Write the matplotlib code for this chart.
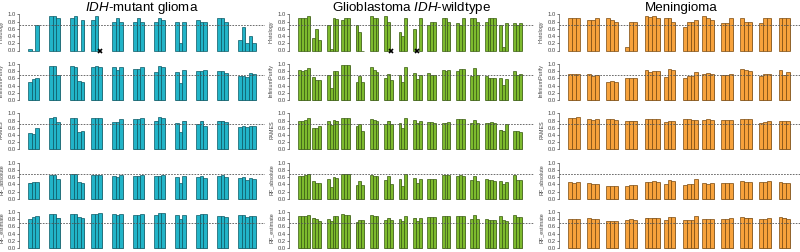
import matplotlib
matplotlib.use("Agg")
import matplotlib.pyplot as plt
import matplotlib.patheffects as pe

plt.rcParams['font.family'] = ['Liberation Sans', 'DejaVu Sans']
plt.rcParams['mathtext.fontset'] = 'custom'
plt.rcParams['mathtext.it'] = 'Liberation Sans:italic'
plt.rcParams['mathtext.rm'] = 'Liberation Sans'

metrics = ["Histology", "InfiniumPurify", "PAMES", "RF_absolute", "RF_estimate"]

# one inner list per patient (its tumour regions); None = no estimate (drawn as x)
idh_histology = [[0.05, 0.0, 0.70], [0.95, 0.95, 0.90], [0.90, 0.95, 0.0, 0.85], [0.85, 0.95, None],
                 [0.80, 0.90, 0.80], [0.80, 0.90, 0.80], [0.80, 0.90, 0.85], [0.80, 0.20, 0.80],
                 [0.85, 0.80, 0.80], [0.90, 0.90, 0.80], [0.30, 0.65, 0.20, 0.40, 0.20]]
idh_infinium = [[0.50, 0.57, 0.60], [0.95, 0.95, 0.70], [0.95, 0.92, 0.52, 0.50], [0.92, 0.93, 0.92],
                [0.92, 0.84, 0.91], [0.86, 0.86, 0.91], [0.78, 0.95, 0.92], [0.78, 0.47, 0.84],
                [0.79, 0.81, 0.84], [0.80, 0.80, 0.74], [0.65, 0.66, 0.64, 0.75, 0.71]]
idh_pames = [[0.45, 0.43, 0.60], [0.88, 0.90, 0.75], [0.86, 0.86, 0.48, 0.51], [0.88, 0.88, 0.88],
             [0.76, 0.77, 0.83], [0.84, 0.85, 0.86], [0.80, 0.91, 0.88], [0.72, 0.49, 0.80],
             [0.71, 0.80, 0.66], [0.80, 0.80, 0.77], [0.63, 0.64, 0.61, 0.66, 0.66]]
idh_rf_abs = [[0.45, 0.47, 0.47], [0.66, 0.65, 0.55], [0.68, 0.68, 0.47, 0.44], [0.65, 0.67, 0.67],
              [0.62, 0.61, 0.66], [0.63, 0.63, 0.65], [0.62, 0.64, 0.65], [0.61, 0.44, 0.63],
              [0.59, 0.62, 0.58], [0.62, 0.66, 0.61], [0.57, 0.60, 0.51, 0.58, 0.56]]
idh_rf_est = [[0.82, 0.86, 0.88], [0.96, 0.96, 0.85], [0.94, 0.94, 0.86, 0.83], [0.94, 0.96, 0.97],
              [0.94, 0.92, 0.94], [0.93, 0.93, 0.94], [0.93, 0.97, 0.97], [0.92, 0.80, 0.93],
              [0.93, 0.95, 0.94], [0.89, 0.90, 0.86], [0.91, 0.92, 0.86, 0.89, 0.89]]

gbm_histology = [[0.90, 0.90, 0.90, 0.95], [0.35, 0.60, 0.30], [0.70, 0.05, 0.90, 0.88], [0.85, 0.90, 0.90],
                 [0.70, 0.50, 0.0], [0.95, 0.90, 0.90], [0.95, 0.80, None], [0.50, 0.40, 0.90],
                 [0.60, None, 0.90], [0.70, 0.80, 0.80], [0.90, 0.90, 0.80], [0.75, 0.70, 0.90],
                 [0.90, 0.90, 0.80], [0.80, 0.90, 0.90, 0.90], [0.70, 0.10, 0.75], [0.75, 0.70, 0.75]]
gbm_infinium = [[0.83, 0.80, 0.84, 0.88], [0.63, 0.56, 0.56], [0.70, 0.33, 0.80, 0.80], [0.96, 0.96, 0.96],
                [0.50, 0.65, 0.50], [0.92, 0.82, 0.78], [0.62, 0.73, 0.56], [0.70, 0.50, 0.90],
                [0.76, 0.58, 0.70], [0.75, 0.70, 0.70], [0.83, 0.80, 0.83], [0.80, 0.85, 0.86],
                [0.66, 0.89, 0.68], [0.65, 0.62, 0.61, 0.61], [0.60, 0.42, 0.58], [0.80, 0.70, 0.73]]
gbm_pames = [[0.78, 0.79, 0.82, 0.86], [0.58, 0.58, 0.64], [0.78, 0.68, 0.81, 0.80], [0.88, 0.88, 0.88],
             [0.65, 0.70, 0.50], [0.84, 0.81, 0.78], [0.70, 0.80, 0.70], [0.73, 0.58, 0.86],
             [0.81, 0.73, 0.79], [0.76, 0.76, 0.73], [0.74, 0.74, 0.75], [0.83, 0.84, 0.83],
             [0.74, 0.81, 0.74], [0.73, 0.73, 0.75, 0.74], [0.55, 0.50, 0.70], [0.50, 0.51, 0.48]]
gbm_rf_abs = [[0.63, 0.63, 0.66, 0.70], [0.50, 0.43, 0.43], [0.54, 0.33, 0.60, 0.58], [0.70, 0.70, 0.70],
              [0.38, 0.48, 0.38], [0.66, 0.64, 0.62], [0.52, 0.62, 0.41], [0.56, 0.36, 0.69],
              [0.57, 0.44, 0.56], [0.56, 0.55, 0.55], [0.66, 0.66, 0.66], [0.64, 0.65, 0.63],
              [0.53, 0.62, 0.50], [0.56, 0.51, 0.52, 0.50], [0.49, 0.42, 0.47], [0.67, 0.53, 0.53]]
gbm_rf_est = [[0.89, 0.89, 0.90, 0.92], [0.85, 0.80, 0.76], [0.82, 0.74, 0.88, 0.88], [0.94, 0.93, 0.93],
              [0.73, 0.79, 0.79], [0.92, 0.89, 0.89], [0.77, 0.85, 0.77], [0.82, 0.76, 0.89],
              [0.85, 0.76, 0.83], [0.86, 0.86, 0.86], [0.88, 0.88, 0.88], [0.89, 0.90, 0.90],
              [0.82, 0.91, 0.80], [0.82, 0.78, 0.78, 0.78], [0.88, 0.78, 0.75], [0.91, 0.87, 0.86]]

men_histology = [[0.90, 0.90, 0.90], [0.85, 0.85, 0.90], [0.90, 0.85, 0.80], [0.10, 0.80, 0.80],
                 [0.95, 0.92, 0.95, 0.90], [0.90, 0.90, 0.80], [0.65, 0.80, 0.80, 0.85], [0.95, 0.90, 0.85],
                 [0.75, 0.75, 0.90], [0.90, 0.80, 0.80], [0.75, 0.90, 0.90], [0.90, 0.90, 0.90]]
men_infinium = [[0.72, 0.72, 0.71], [0.73, 0.66, 0.69], [0.49, 0.52, 0.50], [0.60, 0.61, 0.61],
                [0.82, 0.77, 0.79, 0.79], [0.63, 0.85, 0.83], [0.62, 0.65, 0.66, 0.78], [0.73, 0.75, 0.72],
                [0.70, 0.70, 0.71], [0.86, 0.82, 0.80], [0.65, 0.71, 0.73], [0.83, 0.69, 0.77]]
men_pames = [[0.87, 0.87, 0.89], [0.85, 0.81, 0.84], [0.83, 0.84, 0.81], [0.78, 0.80, 0.80],
             [0.84, 0.85, 0.85, 0.85], [0.75, 0.78, 0.78], [0.83, 0.84, 0.81, 0.81], [0.82, 0.83, 0.82],
             [0.81, 0.81, 0.81], [0.84, 0.84, 0.84], [0.74, 0.75, 0.79], [0.79, 0.78, 0.78]]
men_rf_abs = [[0.46, 0.44, 0.47], [0.44, 0.42, 0.42], [0.35, 0.35, 0.35], [0.35, 0.37, 0.37],
              [0.47, 0.47, 0.48, 0.47], [0.42, 0.53, 0.50], [0.39, 0.41, 0.41, 0.56], [0.44, 0.42, 0.43],
              [0.43, 0.44, 0.44], [0.49, 0.46, 0.46], [0.47, 0.47, 0.50], [0.46, 0.44, 0.44]]
men_rf_est = [[0.80, 0.80, 0.82], [0.84, 0.81, 0.82], [0.76, 0.76, 0.74], [0.78, 0.80, 0.79],
              [0.85, 0.84, 0.85, 0.84], [0.79, 0.86, 0.86], [0.77, 0.78, 0.78, 0.88], [0.82, 0.81, 0.81],
              [0.82, 0.82, 0.83], [0.86, 0.85, 0.85], [0.82, 0.82, 0.84], [0.86, 0.85, 0.81]]

W, H = 800, 252
fig = plt.figure(figsize=(W / 100, H / 100), dpi=100)


def panel(rows, left, right, color, edge, title):
    n = max(len(g) for g in rows[0])
    G = len(rows[0])
    span = G * (n + 1) - 1
    lo, hi = 1 - 0.04 * span, G * (n + 1) + 0.04 * span
    for i, (name, groups) in enumerate(zip(metrics, rows)):
        zero_px = 50.5 + 49.4 * i
        ax = fig.add_axes([left / W, 1 - (zero_px + 1.44) / H, (right - left) / W, 38.88 / H])
        xs, hs, miss = [], [], []
        for g, vals in enumerate(groups):
            for j, v in enumerate(vals):
                x = g * (n + 1) + 1 + j + 0.5
                if v is None:
                    miss.append(x)
                else:
                    xs.append(x)
                    hs.append(v)
        bars = ax.bar(xs, hs, width=1, color=color, edgecolor=edge, linewidth=0.5)
        for b in bars:
            b.set_path_effects([pe.SimplePatchShadow(offset=(0.7, -0.7), shadow_rgbFace='#a8a8a8', alpha=1),
                                pe.Normal()])
        if miss:
            ax.plot(miss, [0] * len(miss), 'x', color='black', markersize=3.5, mew=1.2, clip_on=False)
        ax.axhline(0.7, color='#555555', lw=0.6, dashes=(2, 1.5))
        ax.set_xlim(lo, hi)
        ax.set_ylim(-0.04, 1.04)
        ax.set_xticks([])
        ax.set_yticks([0, 0.2, 0.4, 0.6, 0.8, 1.0])
        ax.set_yticklabels(['0.0', '0.2', '0.4', '0.6', '0.8', '1.0'])
        ax.tick_params(axis='y', labelsize=4.2, length=1.5, width=0.5, pad=1, colors='#444444')
        for s in ['top', 'right', 'bottom']:
            ax.spines[s].set_visible(False)
        ax.spines['left'].set_bounds(0, 1)
        ax.spines['left'].set_linewidth(0.5)
        ax.spines['left'].set_color('#555555')
        ax.patch.set_visible(False)
        ax.set_ylabel(name, fontsize=3.9, color='#444444')
        ax.yaxis.set_label_coords(-15 / (right - left), 0.56 if i == 4 else 0.53)
    fig.text((left + right) / 2 / W, 1 - 11.5 / H, title, ha='center', va='baseline', fontsize=9.6)


panel([idh_histology, idh_infinium, idh_pames, idh_rf_abs, idh_rf_est], 19, 265,
      '#22b4c8', '#0d5a66', r'$\mathit{IDH}$-mutant glioma')
panel([gbm_histology, gbm_infinium, gbm_pames, gbm_rf_abs, gbm_rf_est], 289, 534,
      '#7dba2e', '#3a5c12', r'Glioblastoma $\mathit{IDH}$-wildtype')
panel([men_histology, men_infinium, men_pames, men_rf_abs, men_rf_est], 559, 803,
      '#f7a23c', '#7a4a10', 'Meningioma')

fig.savefig('out.png', dpi=100)
